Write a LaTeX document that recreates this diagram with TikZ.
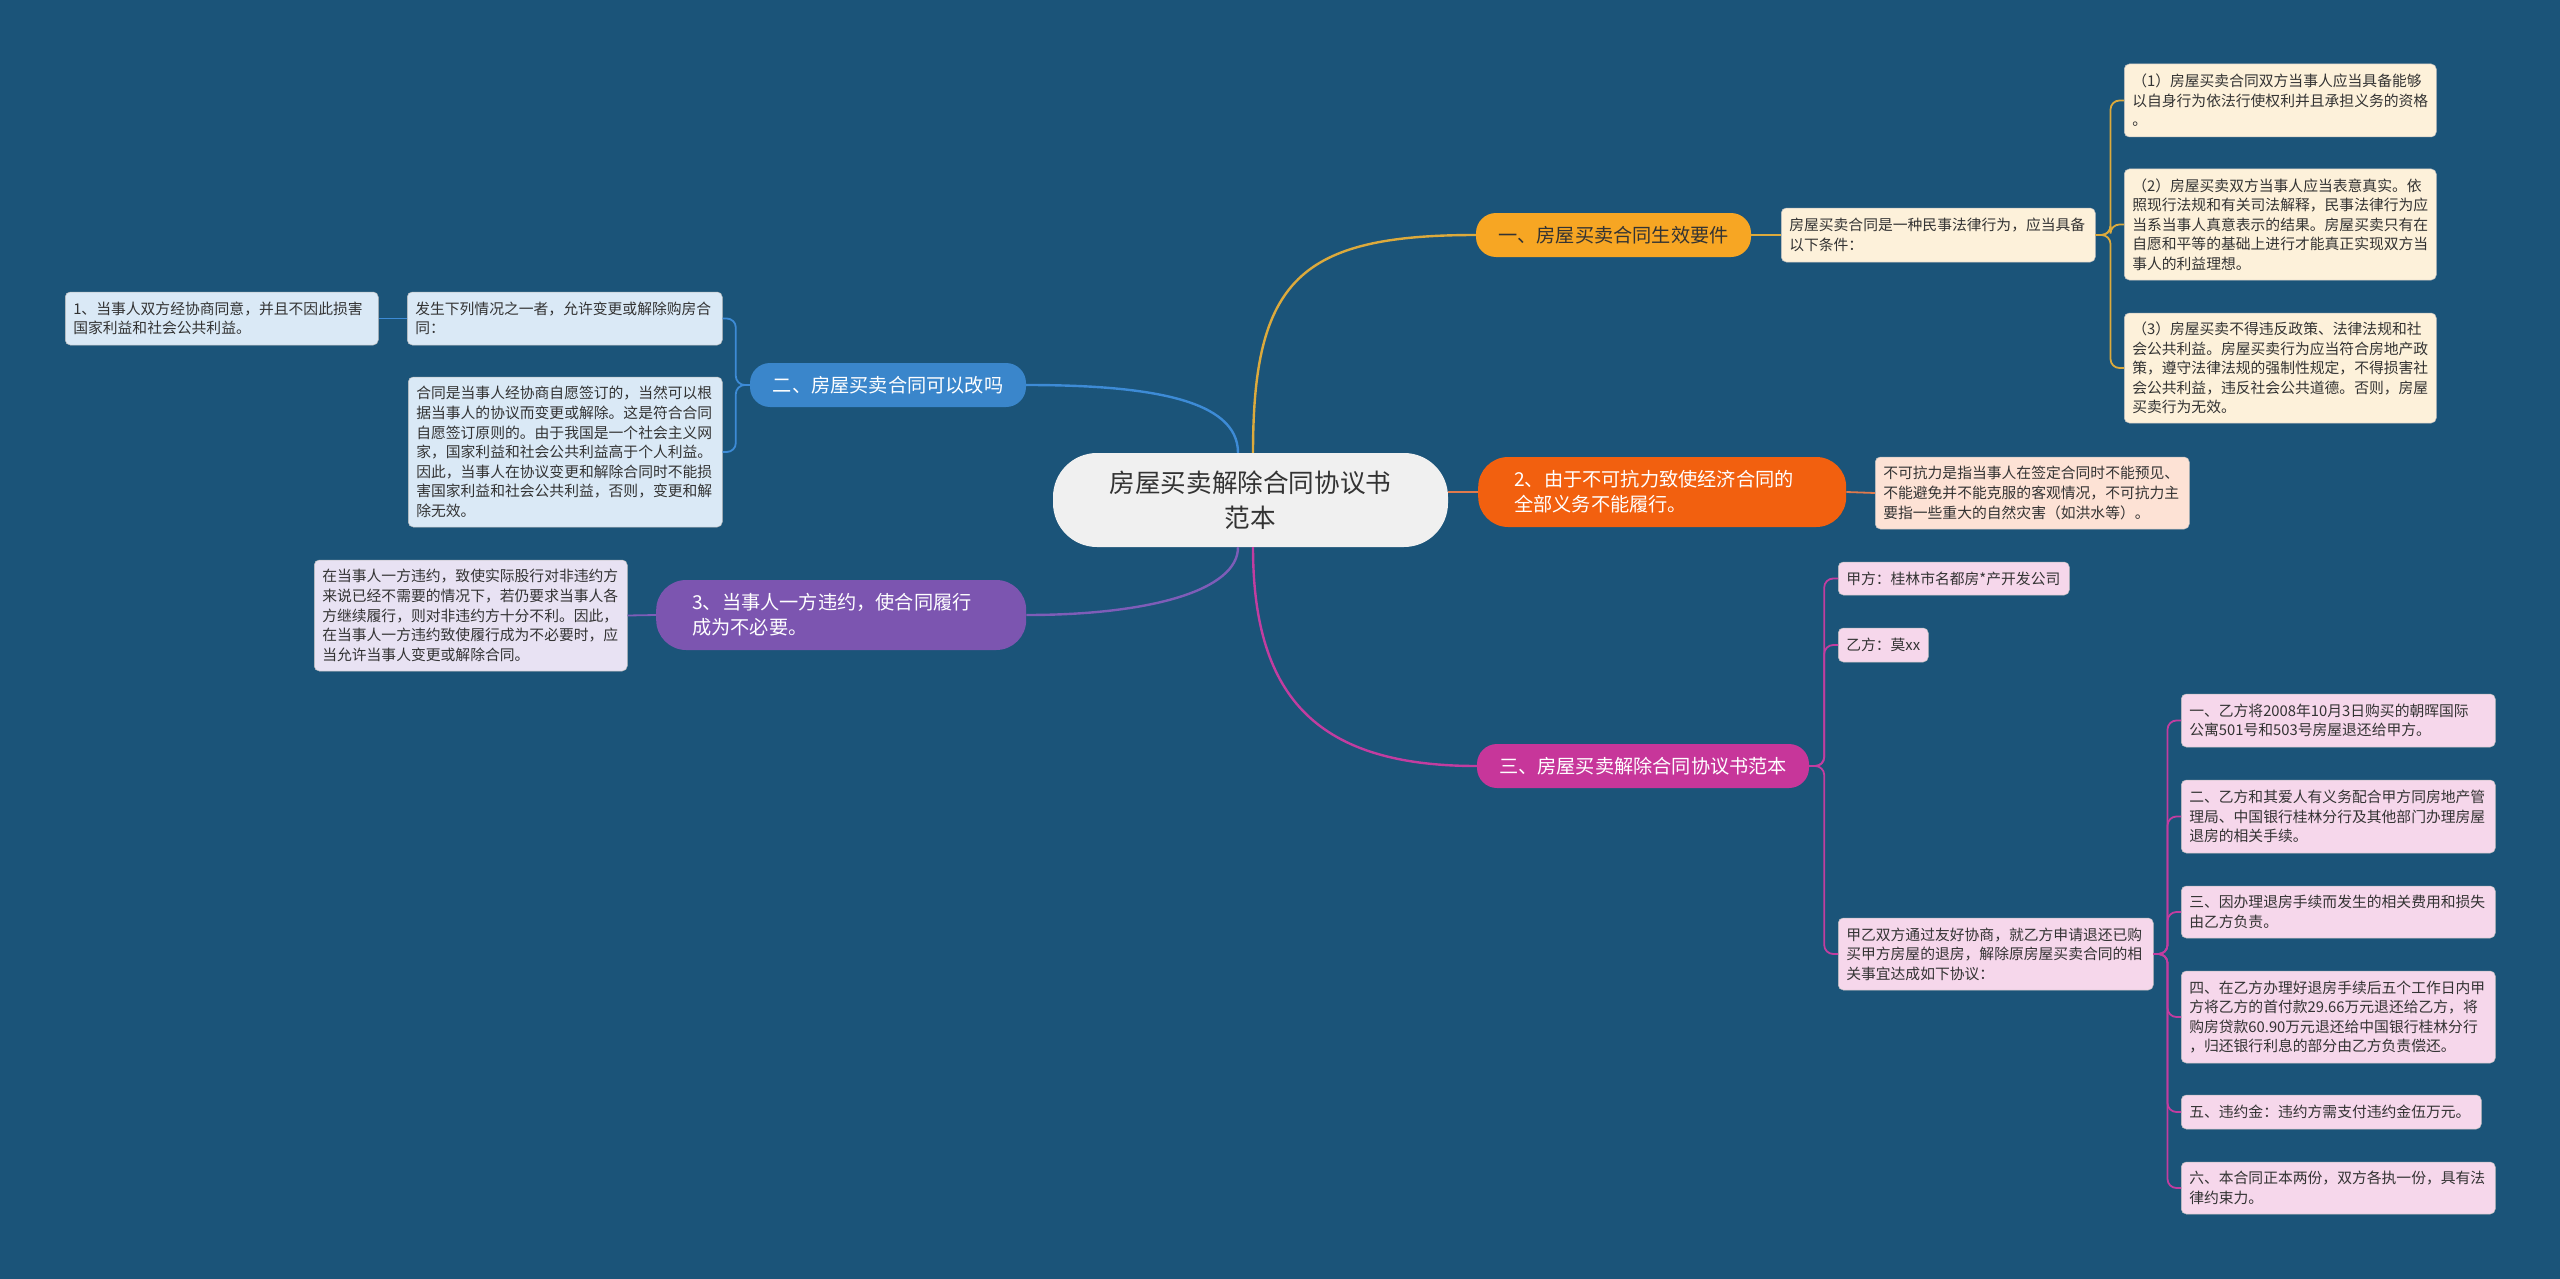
\documentclass[tikz,border=0pt]{standalone}
\usepackage{fontspec}
\setmainfont{Noto Sans CJK SC}
\definecolor{bg}{HTML}{1B5479}
\definecolor{txt}{HTML}{333333}
\definecolor{rootfill}{HTML}{F0F0F0}
\definecolor{yelfill}{HTML}{F7A623}
\definecolor{yelline}{HTML}{DCAA3C}
\definecolor{yelleaf}{HTML}{FDF1DA}
\definecolor{orgfill}{HTML}{F2600F}
\definecolor{orgline}{HTML}{E07A4C}
\definecolor{orgleaf}{HTML}{FDE2D5}
\definecolor{magfill}{HTML}{C7369A}
\definecolor{magline}{HTML}{C23DA0}
\definecolor{magleaf}{HTML}{F6D7EB}
\definecolor{bluefill}{HTML}{3A86CB}
\definecolor{blueline}{HTML}{3D8BD6}
\definecolor{blueleaf}{HTML}{DAE9F6}
\definecolor{purfill}{HTML}{7C55B0}
\definecolor{purline}{HTML}{7E5DB8}
\definecolor{purleaf}{HTML}{E8E2F3}
\tikzset{
  rootbox/.style={fill=rootfill, text=txt, minimum width=395pt, minimum height=94pt,
    rounded corners=44pt, inner sep=0pt, align=center, font=\fontsize{25.6}{35}\selectfont},
  pillA/.style={minimum height=44pt, rounded corners=20pt, inner sep=0pt, text=white,
    font=\fontsize{19.2}{25}\selectfont},
  pillB/.style={minimum height=70pt, rounded corners=30pt, inner xsep=36pt, inner ysep=0pt,
    text=white, align=left, anchor=west, font=\fontsize{19.2}{25}\selectfont},
  leaf/.style={rounded corners=5pt, inner xsep=8pt, inner ysep=0pt, align=left, anchor=west,
    text=txt, font=\fontsize{14.8}{19.6}\selectfont, draw=black!25, line width=0.5pt},
  rootlink/.style={line width=2.4pt},
  bracket/.style={line width=1.8pt, rounded corners=9pt},
}
\begin{document}
\begin{tikzpicture}[x=1pt,y=-1pt]
\useasboundingbox (0,0) rectangle (2560,1279);
\fill[bg] (0,0) rectangle (2560,1279);

% root
\node[rootbox] (root) at (1250.5,500) {房屋买卖解除合同协议书\\范本};

% main branches
\node[pillA, fill=yelfill, text=txt, minimum width=275pt] (b1) at (1613.5,235) {一、房屋买卖合同生效要件};
\node[pillB, fill=orgfill, text width=296pt] (b2) at (1478,492) {2、由于不可抗力致使经济合同的\\全部义务不能履行。};
\node[pillA, fill=magfill, minimum width=332pt] (b3) at (1643,766) {三、房屋买卖解除合同协议书范本};
\node[pillA, fill=bluefill, minimum width=276pt] (bl1) at (888,385) {二、房屋买卖合同可以改吗};
\node[pillB, fill=purfill, text width=298pt] (bl2) at (656,615) {3、当事人一方违约，使合同履行\\成为不必要。};

% branch 1 leaves
\node[leaf, fill=yelleaf, text width=298pt, minimum height=54pt] (a0) at (1781,235) {房屋买卖合同是一种民事法律行为，应当具备\\以下条件：};
\node[leaf, fill=yelleaf, text width=296pt, minimum height=73pt] (a1) at (2124,100.5) {（1）房屋买卖合同双方当事人应当具备能够\\以自身行为依法行使权利并且承担义务的资格\\。};
\node[leaf, fill=yelleaf, text width=296pt, minimum height=111pt] (a2) at (2124,224.5) {（2）房屋买卖双方当事人应当表意真实。依\\照现行法规和有关司法解释，民事法律行为应\\当系当事人真意表示的结果。房屋买卖只有在\\自愿和平等的基础上进行才能真正实现双方当\\事人的利益理想。};
\node[leaf, fill=yelleaf, text width=296pt, minimum height=110pt] (a3) at (2124,368) {（3）房屋买卖不得违反政策、法律法规和社\\会公共利益。房屋买卖行为应当符合房地产政\\策，遵守法律法规的强制性规定，不得损害社\\会公共利益，违反社会公共道德。否则，房屋\\买卖行为无效。};

% branch 2 leaf
\node[leaf, fill=orgleaf, text width=298pt, minimum height=72pt] (k1) at (1875,493) {不可抗力是指当事人在签定合同时不能预见、\\不能避免并不能克服的客观情况，不可抗力主\\要指一些重大的自然灾害（如洪水等）。};

% branch 三 leaves
\node[leaf, fill=magleaf, text width=215pt, minimum height=33pt] (m1) at (1838,578.5) {甲方：桂林市名都房*产开发公司};
\node[leaf, fill=magleaf, text width=74pt, minimum height=34pt] (m2) at (1838,645) {乙方：莫xx};
\node[leaf, fill=magleaf, text width=299pt, minimum height=72pt] (m3) at (1838,954) {甲乙双方通过友好协商，就乙方申请退还已购\\买甲方房屋的退房，解除原房屋买卖合同的相\\关事宜达成如下协议：};
\node[leaf, fill=magleaf, text width=298pt, minimum height=53pt] (n1) at (2181,720.5) {一、乙方将2008年10月3日购买的朝晖国际\\公寓501号和503号房屋退还给甲方。};
\node[leaf, fill=magleaf, text width=298pt, minimum height=73pt] (n2) at (2181,816.5) {二、乙方和其爱人有义务配合甲方同房地产管\\理局、中国银行桂林分行及其他部门办理房屋\\退房的相关手续。};
\node[leaf, fill=magleaf, text width=298pt, minimum height=52pt] (n3) at (2181,912) {三、因办理退房手续而发生的相关费用和损失\\由乙方负责。};
\node[leaf, fill=magleaf, text width=298pt, minimum height=92pt] (n4) at (2181,1017) {四、在乙方办理好退房手续后五个工作日内甲\\方将乙方的首付款29.66万元退还给乙方，将\\购房贷款60.90万元退还给中国银行桂林分行\\，归还银行利息的部分由乙方负责偿还。};
\node[leaf, fill=magleaf, text width=284pt, minimum height=34pt] (n5) at (2181,1112) {五、违约金：违约方需支付违约金伍万元。};
\node[leaf, fill=magleaf, text width=298pt, minimum height=52pt] (n6) at (2181,1188) {六、本合同正本两份，双方各执一份，具有法\\律约束力。};

% left leaves
\node[leaf, fill=blueleaf, text width=299pt, minimum height=53pt] (l1) at (407,318.5) {发生下列情况之一者，允许变更或解除购房合\\同：};
\node[leaf, fill=blueleaf, text width=297pt, minimum height=53pt] (l0) at (65,318.5) {1、当事人双方经协商同意，并且不因此损害\\国家利益和社会公共利益。};
\node[leaf, fill=blueleaf, text width=298pt, minimum height=150pt] (l2) at (408,452) {合同是当事人经协商自愿签订的，当然可以根\\据当事人的协议而变更或解除。这是符合合同\\自愿签订原则的。由于我国是一个社会主义网\\家，国家利益和社会公共利益高于个人利益。\\因此，当事人在协议变更和解除合同时不能损\\害国家利益和社会公共利益，否则，变更和解\\除无效。};
\node[leaf, fill=purleaf, text width=297pt, minimum height=111pt] (p1) at (314,615.5) {在当事人一方违约，致使实际股行对非违约方\\来说已经不需要的情况下，若仍要求当事人各\\方继续履行，则对非违约方十分不利。因此，\\在当事人一方违约致使履行成为不必要时，应\\当允许当事人变更或解除合同。};

% root links
\begin{scope}[on background layer/.style={}]
\end{scope}
\draw[rootlink, yelline] ([xshift=2.5pt]root.north) .. controls +(0,-173) and +(-176,0) .. (b1.west);
\draw[rootlink, blueline] ([xshift=-12.5pt]root.north) .. controls +(0,-53) and +(124,0) .. (bl1.east);
\draw[rootlink, purline] ([xshift=-12.5pt]root.south) .. controls +(0,43) and +(124,0) .. (bl2.east);
\draw[rootlink, magline] ([xshift=2.5pt]root.south) .. controls +(0,153) and +(-157,0) .. (b3.west);
\draw[rootlink, orgline] (root.east |- b2.west) -- (b2.west);

% brackets
\draw[bracket, yelline] (b1.east) -- (a0.west);
\foreach \c in {a1,a2,a3} \draw[bracket, yelline] (a0.east) -- ++(15,0) |- (\c.west);
\draw[bracket, orgline] (b2.east) -- (k1.west);
\foreach \c in {m1,m2,m3} \draw[bracket, magline] (b3.east) -- ++(15,0) |- (\c.west);
\foreach \c in {n1,n2,n3,n4,n5,n6} \draw[bracket, magline] (m3.east) -- ++(14,0) |- (\c.west);
\foreach \c in {l1,l2} \draw[bracket, blueline] (bl1.west) -- ++(-14,0) |- (\c.east);
\draw[bracket, blueline] (l1.west) -- (l0.east);
\draw[bracket, purline] (bl2.west) -- (p1.east);
\end{tikzpicture}
\end{document}
